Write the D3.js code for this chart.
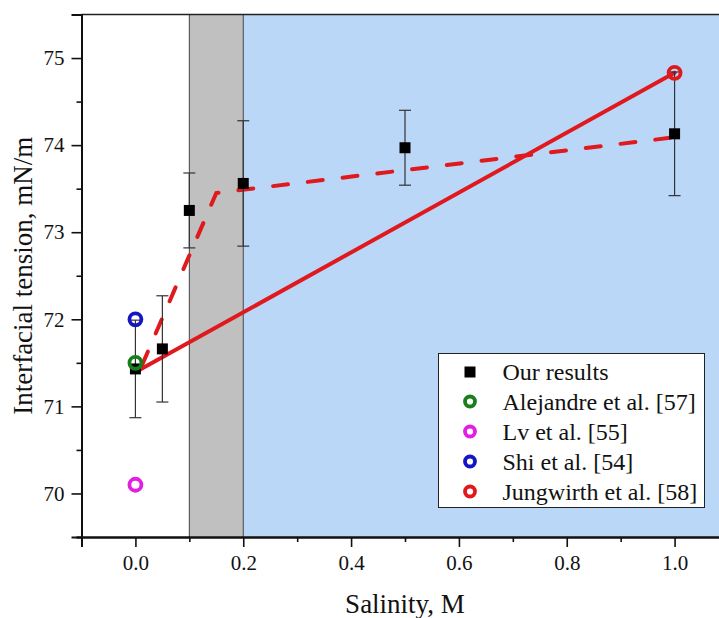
<!DOCTYPE html>
<html>
<head>
<meta charset="utf-8">
<script src="https://cdn.jsdelivr.net/npm/d3@7"></script>
<style>
  body { margin: 0; background: #fff; }
  svg text { font-family: "Liberation Serif", "DejaVu Serif", serif; fill: #111; }
</style>
</head>
<body>
<div id="my_dataviz"></div>
<script>
// our results (squares with error bars)
var ourX = [0.0, 0.05, 0.1, 0.2, 0.5, 1.0]
var ourY = [71.43, 71.66, 73.25, 73.56, 73.97, 74.13]
var ourErr = [0.56, 0.61, 0.43, 0.72, 0.43, 0.71]

// literature values (open circles)
var litNames = ["Alejandre et al. [57]", "Lv et al. [55]", "Shi et al. [54]", "Jungwirth et al. [58]"]
var litX = [0.0, 0.0, 0.0, 1.0]
var litY = [71.5, 70.1, 72.0, 74.83]
var litColors = ["#17801a", "#e21fe2", "#1515c4", "#e0191c"]

// trend lines
var solidX = [0.008, 1.0]
var solidY = [71.42, 74.83]
var dashX = [0.012, 0.15, 1.0]
var dashY = [71.47, 73.45, 74.09]

// shaded regions
var regionStart = [-0.1, 0.1, 0.2]
var regionEnd = [0.1, 0.2, 1.1]
var regionColors = ["#ffffff", "#c0c0c0", "#bad7f8"]

var xMajor = [0.0, 0.2, 0.4, 0.6, 0.8, 1.0]
var xMinor = [-0.1, 0.1, 0.3, 0.5, 0.7, 0.9, 1.1]
var yMajor = [70, 71, 72, 73, 74, 75]
var yMinor = [69.5, 70.5, 71.5, 72.5, 73.5, 74.5, 75.5]

var margin = { top: 14.5, left: 81.5 },
  width = 647,
  height = 522.5;

var serif = "'Liberation Serif', 'DejaVu Serif', serif";

var svg = d3.select("#my_dataviz")
  .append("svg")
  .attr("width", 719)
  .attr("height", 618)
  .append("g")
  .attr("transform", "translate(" + margin.left + "," + margin.top + ")");

var x = d3.scaleLinear()
  .domain([-0.1, 1.1])
  .range([0, width]);
var y = d3.scaleLinear()
  .domain([69.5, 75.5])
  .range([height, 0]);

// background regions
regionStart.forEach(function(s, i) {
  svg.append("rect")
    .attr("x", x(s))
    .attr("y", 0)
    .attr("width", x(regionEnd[i]) - x(s))
    .attr("height", height)
    .style("fill", regionColors[i]);
})
svg.selectAll("regionEdge")
  .data([0.1, 0.2])
  .enter()
  .append("line")
  .attr("x1", function(d) { return x(d) })
  .attr("x2", function(d) { return x(d) })
  .attr("y1", 0)
  .attr("y2", height)
  .attr("stroke", "#444")
  .attr("stroke-width", 1);

// top frame
svg.append("line")
  .attr("x1", 0).attr("x2", width)
  .attr("y1", 0).attr("y2", 0)
  .attr("stroke", "#222").attr("stroke-width", 1.5);

// axes
svg.append("g")
  .attr("transform", "translate(0," + height + ")")
  .call(d3.axisBottom(x).tickValues(xMajor).tickSize(10).tickPadding(8)
    .tickFormat(d3.format(".1f")));
svg.append("g")
  .attr("transform", "translate(0," + height + ")")
  .call(d3.axisBottom(x).tickValues(xMinor).tickSize(5).tickFormat(""));
svg.append("g")
  .call(d3.axisLeft(y).tickValues(yMajor).tickSize(10).tickPadding(7)
    .tickFormat(d3.format("d")));
svg.append("g")
  .call(d3.axisLeft(y).tickValues(yMinor).tickSize(5).tickFormat(""));

svg.selectAll(".domain").attr("stroke", "#111").attr("stroke-width", 2);
svg.selectAll(".tick line").attr("stroke", "#111").attr("stroke-width", 1.6);
svg.selectAll(".tick text")
  .attr("font-family", null)
  .style("font-family", serif)
  .style("font-size", "21px")
  .attr("fill", "#222");

// axis labels
svg.append("text")
  .attr("text-anchor", "middle")
  .attr("x", width / 2)
  .attr("y", 598)
  .style("font-family", serif)
  .style("font-size", "27px")
  .text("Salinity, M");
svg.append("text")
  .attr("text-anchor", "middle")
  .attr("transform", "translate(" + (32 - margin.left) + "," + height / 2 + ")rotate(-90)")
  .style("font-family", serif)
  .style("font-size", "27px")
  .text("Interfacial tension, mN/m");

// trend lines
var line = d3.line()
  .x(function(d) { return x(d[0]) })
  .y(function(d) { return y(d[1]) });
svg.append("path")
  .datum(dashX.map(function(v, i) { return [v, dashY[i]] }))
  .attr("fill", "none")
  .attr("stroke", "#e0191c")
  .attr("stroke-width", 4)
  .attr("stroke-linecap", "round")
  .attr("stroke-dasharray", "15,20")
  .attr("d", line);
svg.append("path")
  .datum(solidX.map(function(v, i) { return [v, solidY[i]] }))
  .attr("fill", "none")
  .attr("stroke", "#e0191c")
  .attr("stroke-width", 4)
  .attr("stroke-linecap", "round")
  .attr("d", line);

// error bars
var ourData = ourX.map(function(v, i) {
  return { x: v, y: ourY[i], e: ourErr[i] }
})
var eb = svg.append("g");
ourData.forEach(function(d) {
  eb.append("line")
    .attr("x1", x(d.x)).attr("x2", x(d.x))
    .attr("y1", y(d.y - d.e)).attr("y2", y(d.y + d.e))
    .attr("stroke", "#333").attr("stroke-width", 1.2);
  [d.y - d.e, d.y + d.e].forEach(function(v) {
    eb.append("line")
      .attr("x1", x(d.x) - 6).attr("x2", x(d.x) + 6)
      .attr("y1", y(v)).attr("y2", y(v))
      .attr("stroke", "#333").attr("stroke-width", 1.2);
  })
})

// squares
svg.append("g")
  .selectAll("sq")
  .data(ourData)
  .enter()
  .append("rect")
  .attr("x", function(d) { return x(d.x) - 5.5 })
  .attr("y", function(d) { return y(d.y) - 5.5 })
  .attr("width", 11)
  .attr("height", 11)
  .style("fill", "#000");

// literature circles
svg.append("g")
  .selectAll("lit")
  .data(litX)
  .enter()
  .append("circle")
  .attr("cx", function(d) { return x(d) })
  .attr("cy", function(d, i) { return y(litY[i]) })
  .attr("r", 6)
  .attr("fill", "none")
  .attr("stroke", function(d, i) { return litColors[i] })
  .attr("stroke-width", 3.8);

// legend
var lg = svg.append("g")
  .attr("transform", "translate(" + (438.5 - margin.left) + "," + (353.5 - margin.top) + ")");
lg.append("rect")
  .attr("width", 266).attr("height", 154)
  .style("fill", "#fff")
  .attr("stroke", "#222").attr("stroke-width", 1);
var legendKeys = ["Our results"].concat(litNames)
lg.selectAll("legendLabels")
  .data(legendKeys)
  .enter()
  .append("text")
  .attr("x", 64)
  .attr("y", function(d, i) { return 18 + i * 30 })
  .attr("dominant-baseline", "central")
  .style("font-family", serif)
  .style("font-size", "24px")
  .text(function(d) { return d });
lg.append("rect")
  .attr("x", 26).attr("y", 13)
  .attr("width", 11).attr("height", 11)
  .style("fill", "#000");
lg.selectAll("legendDots")
  .data(litNames)
  .enter()
  .append("circle")
  .attr("cx", 31.5)
  .attr("cy", function(d, i) { return 48 + i * 30 })
  .attr("r", 5)
  .attr("fill", "none")
  .attr("stroke", function(d, i) { return litColors[i] })
  .attr("stroke-width", 3.8);
</script>
</body>
</html>
